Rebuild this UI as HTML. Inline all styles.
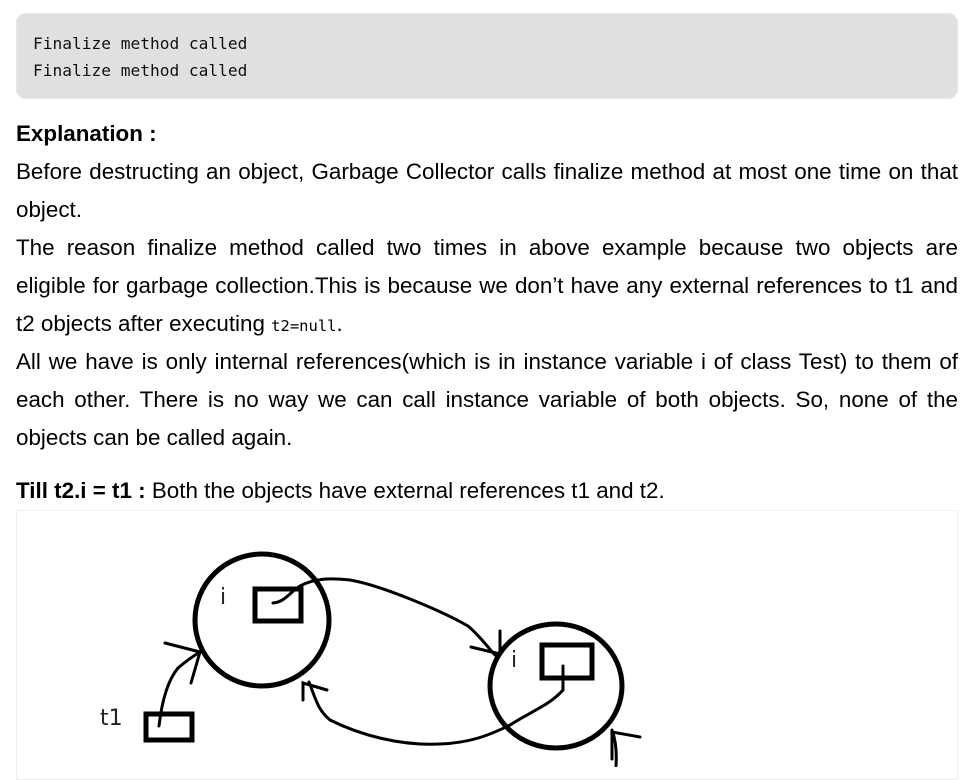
<!DOCTYPE html>
<html><head><meta charset="utf-8"><style>
body{margin:0;background:#fff;width:975px;height:767px;overflow:hidden;position:relative;font-family:"Liberation Sans",Arial,sans-serif;color:#000}
.code{position:absolute;left:16px;top:13px;width:942px;height:86px;background:#e0e0e0;border:1px solid #e6e6e6;border-radius:10px;box-sizing:border-box}
.code div{position:absolute;left:16px;font-family:"DejaVu Sans Mono","Liberation Mono",monospace;font-size:16.2px;color:#111}
.l{position:absolute;left:16px;width:942px;font-size:22.4px;line-height:38px;white-space:nowrap}
.j{text-align:justify;text-align-last:justify;white-space:normal}
.c{font-family:"DejaVu Sans Mono","Liberation Mono",monospace;font-size:15.5px}
.img{position:absolute;left:16px;top:510px;width:942px;height:270px;border:1px solid #f0f0f0;box-sizing:border-box}
</style></head><body>
<div class="code"><div style="top:20px">Finalize method called</div><div style="top:47px">Finalize method called</div></div>
<div class="l" style="top:115px;font-weight:bold;font-size:22.4px">Explanation :</div>
<div class="l j" style="top:153px">Before destructing an object, Garbage Collector calls finalize method at most one time on that</div>
<div class="l" style="top:191px">object.</div>
<div class="l j" style="top:229px">The reason finalize method called two times in above example because two objects are</div>
<div class="l j" style="top:267px">eligible for garbage collection.This is because we don’t have any external references to t1 and</div>
<div class="l" style="top:305px">t2 objects after executing <span class="c">t2=null</span>.</div>
<div class="l j" style="top:343px">All we have is only internal references(which is in instance variable i of class Test) to them of</div>
<div class="l j" style="top:381px">each other. There is no way we can call instance variable of both objects. So, none of the</div>
<div class="l" style="top:419px">objects can be called again.</div>
<div class="l" style="top:472px"><b style="font-size:22.4px">Till t2.i = t1 :</b> Both the objects have external references t1 and t2.</div>
<div class="img"></div>
<svg width="975" height="767" style="position:absolute;left:0;top:0" fill="none" stroke="#000">
<ellipse cx="262" cy="620" rx="67" ry="66" stroke-width="5"/>
<ellipse cx="556" cy="686" rx="66" ry="62" stroke-width="5"/>
<rect x="255" y="589" width="46" height="32" stroke-width="5"/>
<rect x="542" y="645" width="50" height="33" stroke-width="5"/>
<rect x="146" y="714" width="46" height="26" stroke-width="5"/>
<g stroke-width="3" stroke-linecap="round">
<path d="M273 603 C285 602 290 592 300 586 C315 578 330 578 350 580 C380 585 440 610 468 626 C480 636 490 650 495 655"/>
<path d="M500 631 L500 654 L471 647"/>
<path d="M563 666 L563 690 C550 705 530 712 510 725 C490 735 470 743 440 744 C400 746 360 735 330 720 C318 710 316 700 309 682"/>
<path d="M303 700 L303 683 L327 690"/>
<path d="M159 726 C162 700 168 680 178 668 C185 662 195 655 200 652"/>
<path d="M165 643 L200 652 L191 683"/>
<path d="M616 766 C617 750 615 738 612 730"/>
<path d="M612 759 L612 732 L640 737"/>
</g>
</svg>
<div style="position:absolute;left:220px;top:585px;font-size:22px;font-family:'DejaVu Sans',sans-serif;color:#222">i</div>
<div style="position:absolute;left:511px;top:648px;font-size:22px;font-family:'DejaVu Sans',sans-serif;color:#222">i</div>
<div style="position:absolute;left:100px;top:706px;font-size:22px;font-family:'DejaVu Sans',sans-serif;color:#222">t1</div>
</body></html>
